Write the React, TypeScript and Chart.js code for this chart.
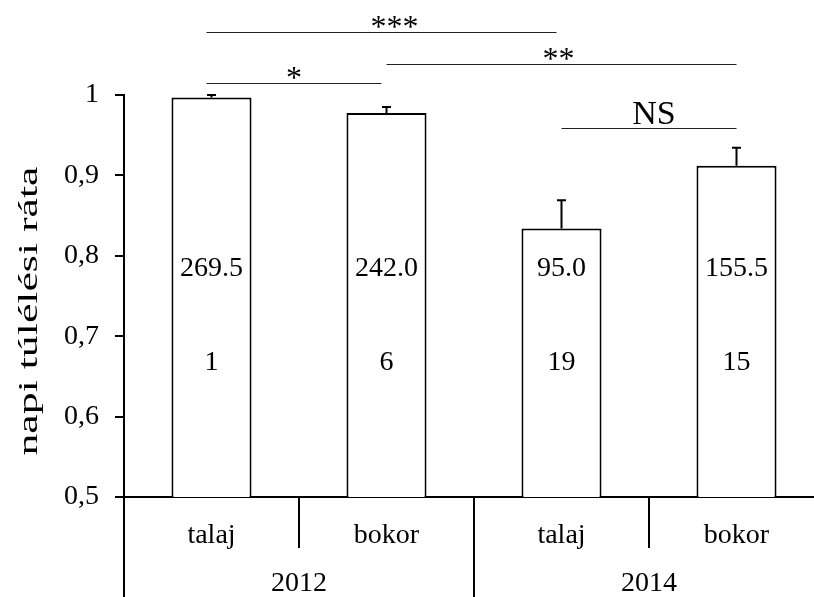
import { useEffect, useRef } from "react";
import { Chart, registerables } from "chart.js";

Chart.register(...registerables);

// ---- data ----
const categories = ["talaj", "bokor", "talaj", "bokor"];
const years = ["2012", "2014"];
const survival = [0.997, 0.9775, 0.834, 0.912];
const errors = [0.003, 0.0075, 0.035, 0.0225];
const topLabels = ["269.5", "242.0", "95.0", "155.5"];
const bottomLabels = ["1", "6", "19", "15"];
const yTicks = [0.5, 0.6, 0.7, 0.8, 0.9, 1];
const yTitle = "napi túlélési ráta";
const sigFrom = [0, 0, 1, 2];
const sigTo = [2, 1, 3, 3];
const sigText = ["***", "*", "**", "NS"];
const sigLevel = [1.078, 1.0155, 1.038, 0.9595];

const FONT = "'Liberation Serif', 'Times New Roman', serif";

const overlayPlugin = {
  id: "overlay",
  afterDatasetsDraw(chart: any) {
    const ctx = chart.ctx;
    const x = chart.scales.x;
    const y = chart.scales.y;
    const meta = chart.getDatasetMeta(0);
    const centers = meta.data.map((b: any) => b.x);

    ctx.save();
    // error bars
    ctx.strokeStyle = "#000";
    ctx.lineWidth = 2;
    survival.forEach((v, i) => {
      const cx = centers[i];
      const top = y.getPixelForValue(v);
      const ey = y.getPixelForValue(v + errors[i]);
      ctx.beginPath();
      ctx.moveTo(cx, top);
      ctx.lineTo(cx, ey);
      ctx.moveTo(cx - 4.5, ey);
      ctx.lineTo(cx + 4.5, ey);
      ctx.stroke();
    });

    // labels inside bars
    ctx.fillStyle = "#000";
    ctx.font = `28px ${FONT}`;
    ctx.textAlign = "center";
    ctx.textBaseline = "middle";
    topLabels.forEach((t, i) => {
      ctx.fillText(t, centers[i], y.getPixelForValue(0.784));
      ctx.fillText(bottomLabels[i], centers[i], y.getPixelForValue(0.667));
    });

    // significance lines
    const lineShift = [-5, -5, 0, 0];
    const textShift = [13, 0, -3, 5];
    sigText.forEach((t, k) => {
      const x1 = centers[sigFrom[k]] + lineShift[k];
      const x2 = centers[sigTo[k]] + lineShift[k];
      const ly = Math.round(y.getPixelForValue(sigLevel[k])) + 0.5;
      ctx.strokeStyle = "#222";
      ctx.lineWidth = 1.2;
      ctx.beginPath();
      ctx.moveTo(x1, ly);
      ctx.lineTo(x2, ly);
      ctx.stroke();
      ctx.font = t === "NS" ? `34px ${FONT}` : `32px ${FONT}`;
      ctx.textBaseline = "alphabetic";
      const m = ctx.measureText(t);
      const base = ly - 5 - m.actualBoundingBoxDescent;
      ctx.fillText(t, (x1 + x2) / 2 + textShift[k], base);
    });

    // category separators and year labels
    const bottom = chart.height;
    const top = x.top;
    ctx.strokeStyle = "#000";
    ctx.lineWidth = 2;
    const edge = (i: number) => (x.getPixelForValue(i) + x.getPixelForValue(i + 1)) / 2;
    const seps = [
      { px: x.left, long: true },
      { px: edge(0), long: false },
      { px: edge(1), long: true },
      { px: edge(2), long: false },
    ];
    seps.forEach((s) => {
      ctx.beginPath();
      ctx.moveTo(s.px, top);
      ctx.lineTo(s.px, s.long ? bottom : top + 51);
      ctx.stroke();
    });
    ctx.font = `28px ${FONT}`;
    ctx.textBaseline = "middle";
    years.forEach((yr, g) => {
      const cx = edge(g * 2);
      ctx.fillText(yr, cx, top + 87);
    });

    // y axis title (stretched along its length like the reference)
    ctx.save();
    ctx.translate(30, (y.top + y.bottom) / 2 + 15);
    ctx.rotate(-Math.PI / 2);
    ctx.scale(1.62, 1);
    ctx.font = `27px ${FONT}`;
    ctx.textAlign = "center";
    ctx.textBaseline = "middle";
    ctx.fillText(yTitle, 0, 0);
    ctx.restore();

    ctx.restore();
  },
};

export default function App() {
  const ref = useRef<HTMLCanvasElement>(null);
  useEffect(() => {
    if (!ref.current) return;
    const chart = new Chart(ref.current, {
      type: "bar",
      data: {
        labels: categories,
        datasets: [
          {
            data: survival,
            backgroundColor: "#ffffff",
            borderColor: "#000000",
            borderWidth: 2,
            barPercentage: 0.915,
            categoryPercentage: 0.5,
          },
        ],
      },
      options: {
        responsive: false,
        animation: false,
        devicePixelRatio: 1,
        layout: { padding: { top: 95, right: 6, left: 0, bottom: 0 } },
        plugins: { legend: { display: false }, tooltip: { enabled: false } },
        scales: {
          x: {
            grid: { display: false, drawTicks: false },
            border: { display: true, color: "#000", width: 2 },
            ticks: { font: { family: FONT, size: 28 }, color: "#000", padding: 22, maxRotation: 0 },
            afterFit: (s: any) => {
              s.height = 100;
            },
          },
          y: {
            min: 0.5,
            max: 1,
            afterBuildTicks: (s: any) => {
              s.ticks = yTicks.map((v) => ({ value: v }));
            },
            ticks: {
              font: { family: FONT, size: 28 },
              color: "#000",
              padding: 16,
              callback: (v: any) => String(v).replace(".", ","),
            },
            grid: { drawOnChartArea: false, drawTicks: true, tickLength: 9, color: "#000", lineWidth: 2 },
            border: { color: "#000", width: 2 },
            afterFit: (s: any) => {
              s.width = 124;
            },
          },
        },
      },
      plugins: [overlayPlugin],
    });
    return () => chart.destroy();
  }, []);
  return (
    <div style={{ position: "fixed", left: 0, top: 0, width: 830, height: 597, background: "#fff" }}>
      <canvas ref={ref} width={830} height={597} style={{ display: "block", width: 830, height: 597 }} />
    </div>
  );
}
